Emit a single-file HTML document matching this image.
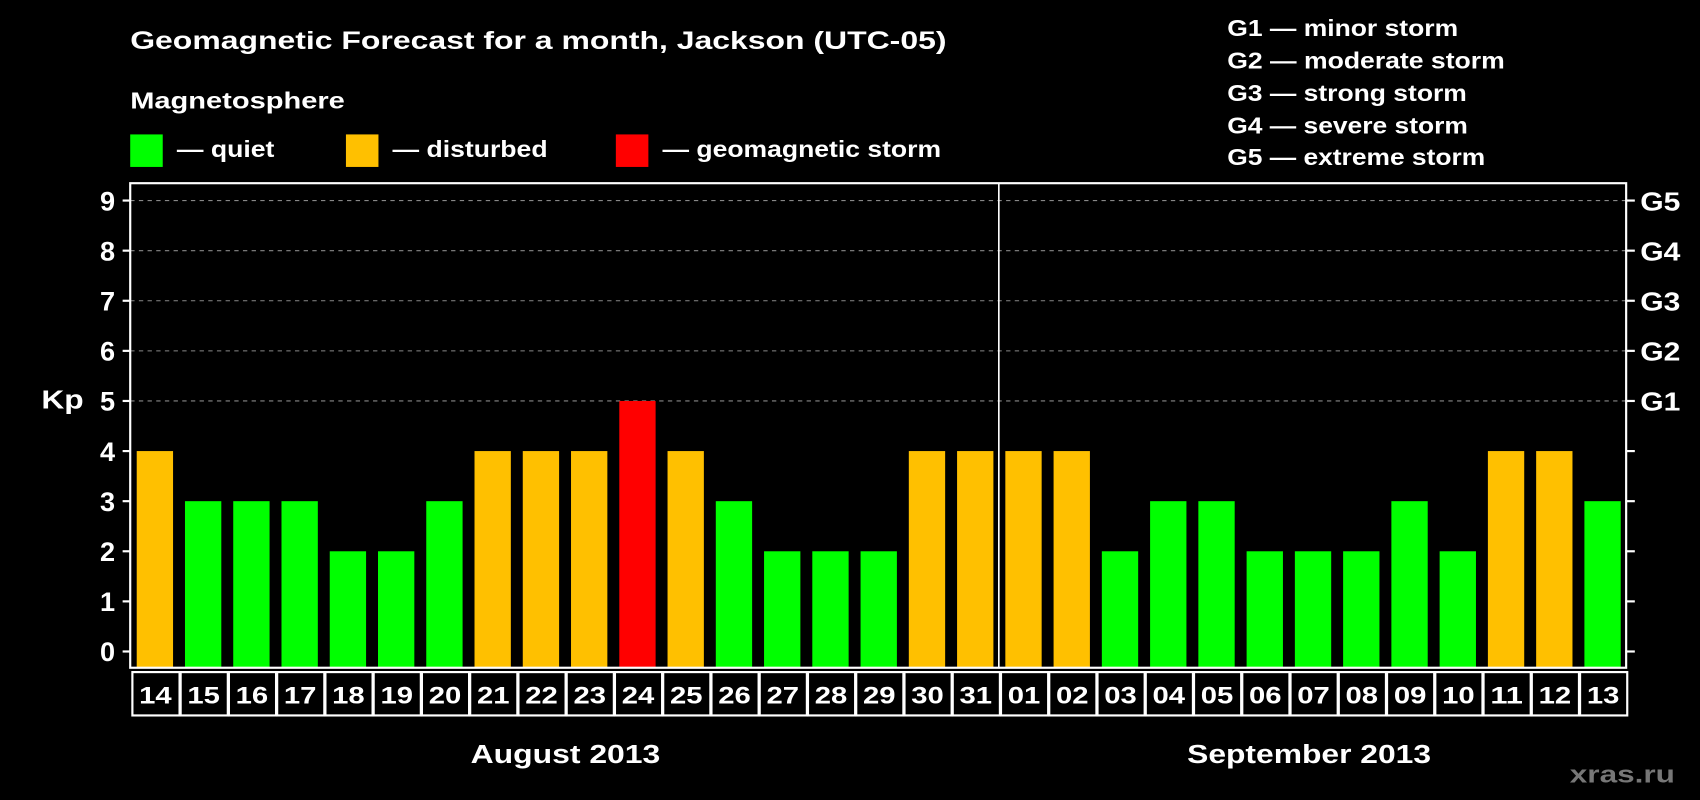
<!DOCTYPE html>
<html><head><meta charset="utf-8"><style>
html,body{margin:0;padding:0;background:#000;}
svg{display:block;font-family:"Liberation Sans",Arial,sans-serif;font-weight:bold;}
</style></head><body>
<svg id="chart" width="1700" height="800" viewBox="0 0 1568 738" xmlns="http://www.w3.org/2000/svg">
<rect width="1568" height="738" fill="#000"/>
<text x="120" y="45" fill="#fff" font-size="23" textLength="753" lengthAdjust="spacingAndGlyphs">Geomagnetic Forecast for a month, Jackson (UTC-05)</text>
<text x="120" y="100" fill="#fff" font-size="21" textLength="198" lengthAdjust="spacingAndGlyphs">Magnetosphere</text>
<g><rect x="120" y="124" width="30" height="30" fill="#00ff00"/><text x="163" y="145" fill="#fff" font-size="21" textLength="90" lengthAdjust="spacingAndGlyphs">— quiet</text></g>
<g><rect x="319" y="124" width="30" height="30" fill="#ffc000"/><text x="362" y="145" fill="#fff" font-size="21" textLength="143" lengthAdjust="spacingAndGlyphs">— disturbed</text></g>
<g><rect x="568" y="124" width="30" height="30" fill="#ff0000"/><text x="611" y="145" fill="#fff" font-size="21" textLength="257" lengthAdjust="spacingAndGlyphs">— geomagnetic storm</text></g>
<g fill="#fff" font-size="21" lengthAdjust="spacingAndGlyphs">
<text x="1132" y="33" textLength="213" lengthAdjust="spacingAndGlyphs">G1 — minor storm</text>
<text x="1132" y="63" textLength="256" lengthAdjust="spacingAndGlyphs">G2 — moderate storm</text>
<text x="1132" y="93" textLength="221" lengthAdjust="spacingAndGlyphs">G3 — strong storm</text>
<text x="1132" y="123" textLength="222" lengthAdjust="spacingAndGlyphs">G4 — severe storm</text>
<text x="1132" y="152" textLength="238" lengthAdjust="spacingAndGlyphs">G5 — extreme storm</text>
</g>
<text x="38" y="377" fill="#fff" font-size="24" textLength="39" lengthAdjust="spacingAndGlyphs">Kp</text>
<g id="grid"></g><g id="bars"></g><g id="axes"></g>
<text x="434" y="704" fill="#fff" font-size="24" textLength="175" lengthAdjust="spacingAndGlyphs">August 2013</text>
<text x="1095" y="704" fill="#fff" font-size="24" textLength="225" lengthAdjust="spacingAndGlyphs">September 2013</text>
<text x="1448" y="722" fill="#777" font-size="22" textLength="97" lengthAdjust="spacingAndGlyphs">xras.ru</text>
</svg>
<script>
const days = ["14","15","16","17","18","19","20","21","22","23","24","25","26","27","28","29","30","31","01","02","03","04","05","06","07","08","09","10","11","12","13"];
const kp = [4,3,3,3,2,2,3,4,4,4,5,4,3,2,2,2,4,4,4,4,2,3,3,2,2,2,3,2,4,4,3];
const yTicks = [0,1,2,3,4,5,6,7,8,9];
const gLabels = ["G1","G2","G3","G4","G5"];
const gLevels = [5,6,7,8,9];
const monthSplitIndex = 18;

const NS = "http://www.w3.org/2000/svg";
const L = 120, R = 1500, T = 169, B = 616;
const slot = (R - L) / days.length;
const y = v => 601 - v * (601 - 185) / 9;
const x = i => L + i * slot;
function mk(tag, attrs, parent){const e=document.createElementNS(NS,tag);for(const k in attrs)e.setAttribute(k,attrs[k]);parent.appendChild(e);return e;}
const grid = document.getElementById('grid'), bars = document.getElementById('bars'), axes = document.getElementById('axes');
function color(v){return v>=5?"#ff0000":v>=4?"#ffc000":"#00ff00";}

yTicks.forEach(t=>{
  if(t>=5){const g=mk('line',{x1:L,x2:R,y1:y(t),y2:y(t),stroke:'#888','stroke-width':1,'stroke-dasharray':'4,4'},grid);
    
    }
  const tl=mk('line',{x1:L-7,x2:L,y1:y(t),y2:y(t),stroke:'#fff','stroke-width':2},axes);
  
  
  const tr=mk('line',{x1:R,x2:R+8,y1:y(t),y2:y(t),stroke:'#fff','stroke-width':2},axes);
  
  
  const lb=mk('text',{x:L-14,y:y(t)+9,fill:'#fff','font-size':25,'text-anchor':'end'},axes);
  lb.textContent=t;
  
  
});
gLabels.forEach((g,i)=>{
  const t=mk('text',{x:R+13,y:y(gLevels[i])+9,fill:'#fff','font-size':24,textLength:37,lengthAdjust:'spacingAndGlyphs'},axes);
  t.textContent=g;
  
  
});
kp.forEach((v,i)=>{
  const b=mk('rect',{x:x(i)+6,width:slot-11,y:y(v),height:616-y(v),fill:color(v)},bars);
  
  
  const c=mk('rect',{x:x(i)+2,y:620,width:slot-1,height:40,fill:'none',stroke:'#fff','stroke-width':2},axes);
  
  
  const d=mk('text',{x:x(i)+slot/2-14,y:649,fill:'#fff','font-size':22,textLength:30,lengthAdjust:'spacingAndGlyphs'},axes);
  d.textContent=days[i];
  
  
});
const fr=mk('rect',{x:L,y:T,width:R-L,height:B-T,fill:'none',stroke:'#fff','stroke-width':2},axes);


const dv=mk('line',{x1:x(monthSplitIndex),x2:x(monthSplitIndex),y1:T,y2:B,stroke:'#fff','stroke-width':1.5},axes);


</script>
</body></html>
